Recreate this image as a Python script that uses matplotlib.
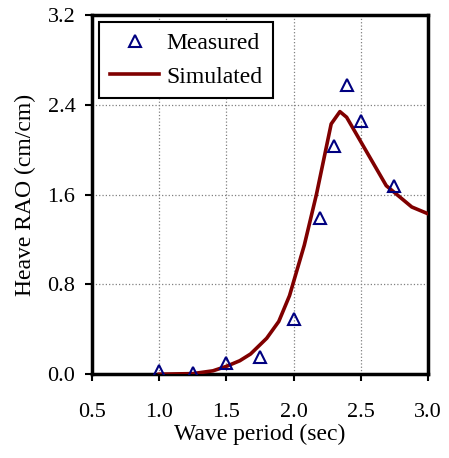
import matplotlib
matplotlib.use('Agg')
import matplotlib.pyplot as plt

# measured heave RAO
meas_period = [1.0, 1.25, 1.5, 1.75, 2.0, 2.2, 2.3, 2.4, 2.5, 2.75]
meas_rao = [0.03, 0.01, 0.10, 0.15, 0.49, 1.39, 2.03, 2.58, 2.26, 1.68]

# simulated heave RAO
sim_period = [1.0, 1.25, 1.4, 1.5, 1.6, 1.68, 1.8, 1.89, 1.97, 2.08, 2.17,
              2.28, 2.345, 2.395, 2.69, 2.88, 3.0]
sim_rao = [0.0, 0.005, 0.03, 0.07, 0.12, 0.18, 0.32, 0.47, 0.70, 1.15, 1.6,
           2.23, 2.34, 2.29, 1.68, 1.49, 1.43]

xticks = [0.5, 1.0, 1.5, 2.0, 2.5, 3.0]
yticks = [0.0, 0.8, 1.6, 2.4, 3.2]

plt.rcParams['font.family'] = ['Liberation Serif', 'DejaVu Serif']

fig = plt.figure(figsize=(4.49, 4.58), dpi=100)
ax = fig.add_axes([0.205, 0.183, 0.748, 0.784])

ax.plot(sim_period, sim_rao, color='#800000', lw=2.6, label='Simulated', zorder=3)
ax.plot(meas_period, meas_rao, linestyle='none', marker='^', ms=9,
        mfc='none', mec='#000080', mew=1.5, label='Measured', zorder=4)

ax.set_xlim(0.5, 3.0)
ax.set_ylim(0.0, 3.2)
ax.set_xticks(xticks)
ax.set_yticks(yticks)
ax.set_xticklabels([f'{v:.1f}' for v in xticks])
ax.set_yticklabels([f'{v:.1f}' for v in yticks])
ax.tick_params(direction='out', length=5, width=1.5, labelsize=16)
ax.tick_params(axis='x', pad=16)
ax.tick_params(axis='y', pad=7)
ax.grid(True, color='gray', linestyle=':', linewidth=0.9)
ax.set_axisbelow(True)
for s in ax.spines.values():
    s.set_linewidth(2.5)

ax.set_xlabel('Wave period (sec)', fontsize=17, labelpad=1)
ax.set_ylabel('Heave RAO (cm/cm)', fontsize=17, labelpad=8)

h, l = ax.get_legend_handles_labels()
leg = ax.legend(h[::-1], l[::-1], loc='upper left', fontsize=17, fancybox=False,
                framealpha=1, edgecolor='black', handlelength=2.1,
                handletextpad=0.3, borderpad=0.45, labelspacing=0.5,
                borderaxespad=0.3)
leg.get_frame().set_linewidth(1.5)

fig.savefig('out.png', dpi=100)
